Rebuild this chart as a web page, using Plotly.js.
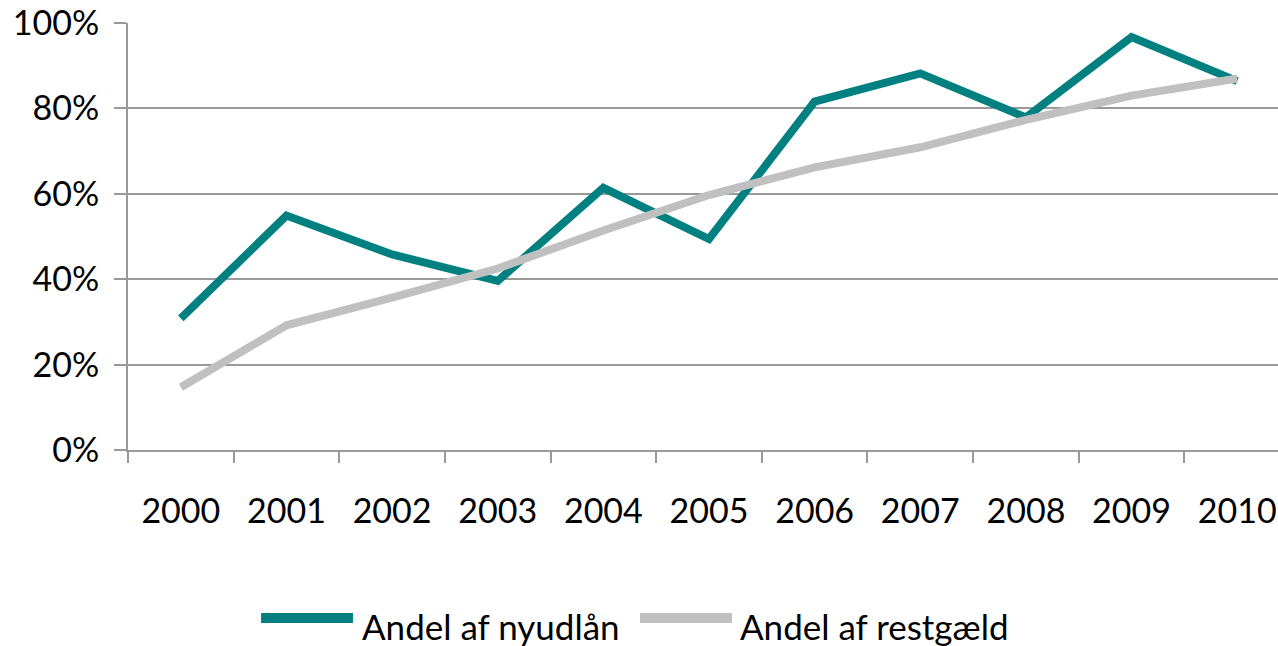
<!DOCTYPE html>
<html>
<head>
<meta charset="utf-8">
<script src="https://cdn.plot.ly/plotly-3.0.1.min.js"></script>
<style>
html, body { margin: 0; padding: 0; overflow: hidden; background: #ffffff; }
#chart { width: 1290px; height: 646px; }
</style>
</head>
<body>
<div id="chart"></div>
<script>
var years = ["2000", "2001", "2002", "2003", "2004", "2005", "2006", "2007", "2008", "2009", "2010"];
var andelNyudlaan = [0.308, 0.549, 0.458, 0.396, 0.614, 0.494, 0.816, 0.882, 0.779, 0.967, 0.864];
var andelRestgaeld = [0.147, 0.292, 0.357, 0.425, 0.514, 0.597, 0.662, 0.709, 0.773, 0.830, 0.870];
var seriesNames = ["Andel af nyudlån", "Andel af restgæld"];
var seriesColors = ["#008080", "#C0C0C0"];

var fontFamily = "Lato, 'Open Sans', 'Liberation Sans', sans-serif";

var traces = [
  {
    x: years, y: andelNyudlaan, name: seriesNames[0], type: "scatter", mode: "lines",
    line: { color: seriesColors[0], width: 8 }
  },
  {
    x: years, y: andelRestgaeld, name: seriesNames[1], type: "scatter", mode: "lines",
    line: { color: seriesColors[1], width: 8 }
  }
];

// legend drawn as paper-referenced keys and labels (long line keys like the original)
var legendKeyX = [[0.1145, 0.1936], [0.4406, 0.5198]];
var legendTextX = [0.1997, 0.525];
var legendKeyY = -0.3934;
var legendTextY = -0.412;

var shapes = [];
var annotations = [];
for (var i = 0; i < seriesNames.length; i++) {
  shapes.push({
    type: "line", xref: "paper", yref: "paper",
    x0: legendKeyX[i][0], x1: legendKeyX[i][1], y0: legendKeyY, y1: legendKeyY,
    line: { color: seriesColors[i], width: 10 }
  });
  annotations.push({
    xref: "paper", yref: "paper", x: legendTextX[i], y: legendTextY,
    xanchor: "left", yanchor: "middle", showarrow: false,
    text: seriesNames[i],
    font: { family: fontFamily, size: 35, color: "#000000" }
  });
}

var layout = {
  width: 1290,
  height: 646,
  margin: { l: 128, r: 0, t: 23, b: 196, pad: 0 },
  paper_bgcolor: "#ffffff",
  plot_bgcolor: "#ffffff",
  font: { family: fontFamily, size: 34, color: "#000000" },
  showlegend: false,
  shapes: shapes,
  annotations: annotations,
  xaxis: {
    type: "category",
    range: [-0.5, 10.5],
    tickson: "boundaries",
    ticks: "outside",
    ticklen: 11,
    tickwidth: 2,
    tickcolor: "#999999",
    showline: true,
    linecolor: "#999999",
    linewidth: 2,
    showgrid: false,
    zeroline: false,
    ticklabelstandoff: 30,
    tickfont: { family: fontFamily, size: 34, color: "#000000" }
  },
  yaxis: {
    range: [0, 1],
    dtick: 0.2,
    tick0: 0,
    tickformat: ".0%",
    ticks: "outside",
    ticklen: 12,
    tickwidth: 2,
    tickcolor: "#999999",
    showline: true,
    linecolor: "#999999",
    linewidth: 2,
    showgrid: true,
    gridcolor: "#999999",
    gridwidth: 2,
    zeroline: false,
    ticklabelstandoff: 8,
    tickfont: { family: fontFamily, size: 34, color: "#000000" }
  }
};

Plotly.newPlot("chart", traces, layout, { displayModeBar: false, staticPlot: true });
</script>
</body>
</html>
